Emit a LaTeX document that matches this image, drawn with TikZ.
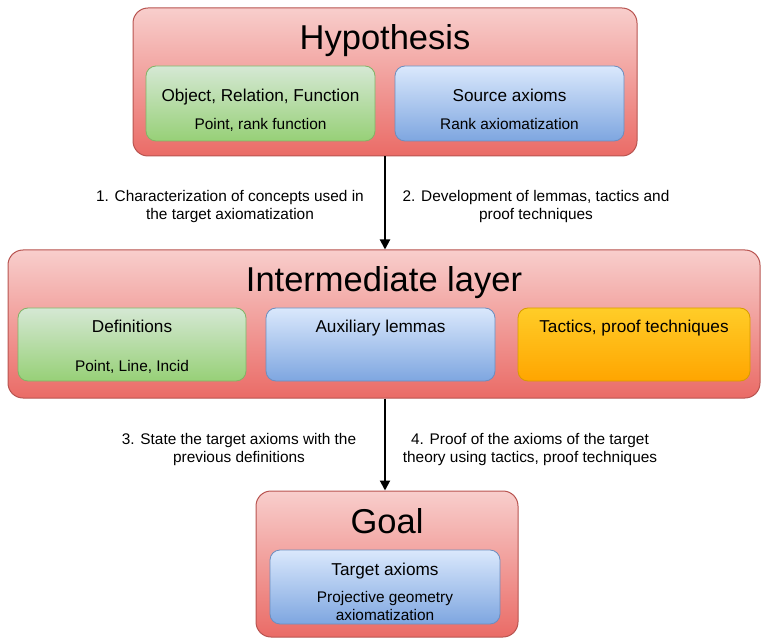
\documentclass[tikz,border=0pt]{standalone}
\usepackage{fontspec}
\setmainfont{Liberation Sans}
\usetikzlibrary{arrows.meta,positioning}
\definecolor{redTop}{HTML}{F8CECC}
\definecolor{redBot}{HTML}{EA6B66}
\definecolor{redLine}{HTML}{B85450}
\definecolor{greenTop}{HTML}{D5E8D4}
\definecolor{greenBot}{HTML}{97D077}
\definecolor{greenLine}{HTML}{82B366}
\definecolor{blueTop}{HTML}{DAE8FC}
\definecolor{blueBot}{HTML}{7EA6E0}
\definecolor{blueLine}{HTML}{6C8EBF}
\definecolor{orangeTop}{HTML}{FFCD28}
\definecolor{orangeBot}{HTML}{FFA500}
\definecolor{orangeLine}{HTML}{D79B00}

\begin{document}
\begin{tikzpicture}[x=1pt,y=-1pt,
layer/.style={draw=redLine,top color=redTop,bottom color=redBot,rounded corners=15pt,line width=1pt,inner sep=0pt},
part/.style={draw=#1Line,top color=#1Top,bottom color=#1Bot,rounded corners=10pt,line width=.8pt,inner sep=0pt},
title/.style={anchor=base,font=\fontsize{34.5}{40}\selectfont},
head/.style={anchor=base,font=\fontsize{17.2}{20}\selectfont},
sub/.style={anchor=base,font=\fontsize{15.4}{18}\selectfont},
step label/.style={anchor=base,align=center,font=\fontsize{15.4}{18}\selectfont},
arrow/.style={-{Triangle[length=10pt,width=10pt]},line width=2pt}]
\useasboundingbox (0,0) rectangle (761,639);
% hypothesis
\node[layer,minimum width=504pt,minimum height=148pt] (hypo) at (385,82) {};
\node[title] (hypoTitle) at (385,50) {Hypothesis};
\node[part=green,minimum width=229pt,minimum height=75pt] (objects) at (260.5,103.5) {};
\node[head] (objectsHead) at (260.5,101.5) {Object, Relation, Function};
\node[sub] (objectsSub) at (260.5,130) {Point, rank function};
\node[part=blue,minimum width=229pt,minimum height=75pt] (source) at (509.5,103.5) {};
\node[head] (sourceHead) at (509.5,101.5) {Source axioms};
\node[sub] (sourceSub) at (509.5,130) {Rank axiomatization};
% intermediate layer
\node[layer,minimum width=752pt,minimum height=148pt] (inter) at (384,324) {};
\node[title] (interTitle) at (384,292) {Intermediate layer};
\node[part=green,minimum width=228pt,minimum height=73pt] (defs) at (132,344.5) {};
\node[head] (defsHead) at (132,333) {Definitions};
\node[sub] (defsSub) at (132,371.5) {Point, Line, Incid};
\node[part=blue,minimum width=229pt,minimum height=73pt] (lemmas) at (380.5,344.5) {};
\node[head] (lemmasHead) at (380.5,333) {Auxiliary lemmas};
\node[part=orange,minimum width=232pt,minimum height=73pt] (tactics) at (634,344.5) {};
\node[head] (tacticsHead) at (634,333) {Tactics, proof techniques};
% goal
\node[layer,minimum width=262pt,minimum height=146pt] (goal) at (387,564) {};
\node[title] (goalTitle) at (387,533) {Goal};
\node[part=blue,minimum width=230pt,minimum height=74pt] (target) at (385,587) {};
\node[head] (targetHead) at (385,575) {Target axioms};
\node[sub,align=center] (targetSub) at (385,620) {Projective geometry\\axiomatization};
% steps
\draw[arrow] (hypo.south-|385,0) -- (inter.north-|385,0);
\draw[arrow] (inter.south-|385,0) -- (goal.north-|385,0);
\node[step label] (stepOne) at (230,220) {1. Characterization of concepts used in\\the target axiomatization};
\node[step label] (stepTwo) at (536,220) {2. Development of lemmas, tactics and\\proof techniques};
\node[step label] (stepThree) at (239,462.5) {3. State the target axioms with the\\previous definitions};
\node[step label] (stepFour) at (530,462.5) {4. Proof of the axioms of the target\\theory using tactics, proof techniques};
\end{tikzpicture}
\end{document}
